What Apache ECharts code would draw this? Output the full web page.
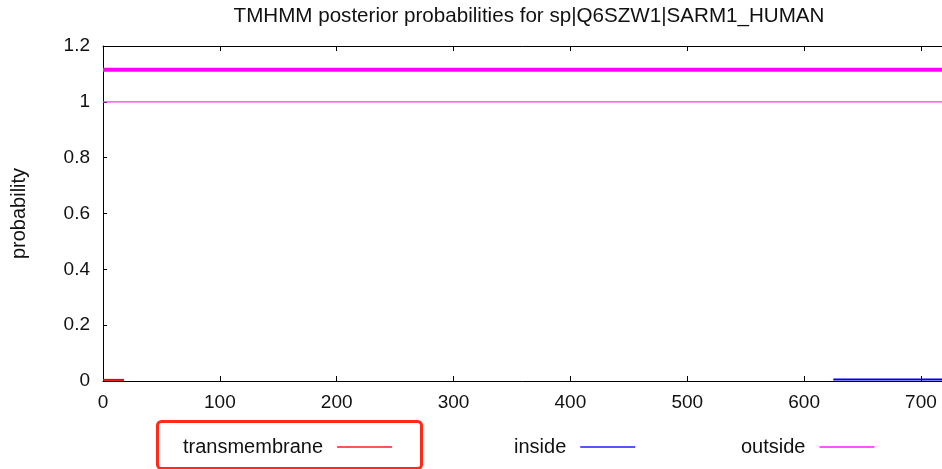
<!DOCTYPE html>
<html>
<head>
<meta charset="utf-8">
<script src="https://cdn.jsdelivr.net/npm/echarts@6/dist/echarts.min.js"></script>
<style>
html,body{margin:0;padding:0;background:#fff;}
#chart{width:942px;height:469px;}
</style>
</head>
<body>
<div id="chart"></div>
<script>
// ---- data (residue position, probability) ----
const titleText = "TMHMM posterior probabilities for sp|Q6SZW1|SARM1_HUMAN";
const seqLength = 724;
const legendNames = ["transmembrane", "inside", "outside"];
const transmembrane = [[0, 0.004], [18, 0.004]];
const inside = [[625, 0.005], [724, 0.005]];
const outside = [[0, 1], [724, 1]];
const topologyOutside = [[0, 1.115], [724, 1.115]];
const yMin = 0, yMax = 1.2, yStep = 0.2;
const xMin = 0, xStep = 100;

const FONT = "'Liberation Sans', Arial, sans-serif";
const chart = echarts.init(document.getElementById('chart'), null, {renderer: 'canvas'});

function legendAt(name, left, color) {
  return {
    data: [{name: name, itemStyle: {color: color}}],
    left: left, top: 437, padding: 0,
    align: 'right', icon: 'rect',
    itemWidth: 55, itemHeight: 2,
    selectedMode: false,
    textStyle: {fontFamily: FONT, fontSize: 20, color: '#111', padding: [0, 9, 0, 0]}
  };
}

chart.setOption({
  animation: false,
  backgroundColor: '#fff',
  title: {
    text: titleText, left: 524, textAlign: 'center', top: 1,
    textStyle: {fontFamily: FONT, fontSize: 20.6, fontWeight: 'normal', color: '#111'}
  },
  grid: {left: 103, top: 46, height: 335, width: 846, containLabel: false, outerBoundsMode: 'none'},
  legend: [
    legendAt(legendNames[0], 183, '#ff5555'),
    legendAt(legendNames[1], 514, '#5555ff'),
    legendAt(legendNames[2], 741, '#ff55ff')
  ],
  xAxis: [{
    type: 'value', min: xMin, max: seqLength, interval: xStep, position: 'bottom',
    axisLine: {onZero: false, lineStyle: {color: '#000', width: 1}},
    axisTick: {inside: true, length: 5, lineStyle: {color: '#000'}},
    axisLabel: {fontFamily: FONT, fontSize: 19, color: '#111', margin: 12, showMaxLabel: false},
    splitLine: {show: false}
  }, {
    type: 'value', min: xMin, max: seqLength, interval: xStep, position: 'top',
    axisLine: {onZero: false, lineStyle: {color: '#000', width: 1}},
    axisTick: {inside: true, length: 5, lineStyle: {color: '#000'}},
    axisLabel: {show: false},
    splitLine: {show: false}
  }],
  yAxis: {
    type: 'value', min: yMin, max: yMax, interval: yStep,
    name: 'probability', nameLocation: 'middle', nameGap: 74,
    nameTextStyle: {fontFamily: FONT, fontSize: 20, color: '#111'},
    axisLine: {show: true, onZero: false, lineStyle: {color: '#000', width: 1}},
    axisTick: {show: true, inside: true, length: 4, lineStyle: {color: '#000'}},
    axisLabel: {fontFamily: FONT, fontSize: 19, color: '#111', margin: 13,
      formatter: v => String(+v.toFixed(1))},
    splitLine: {show: false}
  },
  series: [
    {name: legendNames[0], type: 'line', data: transmembrane, symbol: 'none',
      lineStyle: {color: '#ee0000', width: 2}, itemStyle: {color: '#ff5555'}, z: 5},
    {name: legendNames[1], type: 'line', data: inside, symbol: 'none',
      lineStyle: {color: '#0000ee', width: 2}, itemStyle: {color: '#5555ff'}, z: 5},
    {name: legendNames[2], type: 'line', data: outside, symbol: 'none',
      lineStyle: {color: '#ff33ff', width: 1.3}, itemStyle: {color: '#ff55ff'}},
    {name: 'outside topology', type: 'line', data: topologyOutside, symbol: 'none',
      lineStyle: {color: '#ff00ff', width: 4}}
  ],
  graphic: [{
    type: 'rect', left: 155, top: 419,
    shape: {width: 264, height: 47, r: 4},
    style: {fill: 'none', stroke: '#ff2a1a', lineWidth: 3}
  }]
});
</script>
</body>
</html>
